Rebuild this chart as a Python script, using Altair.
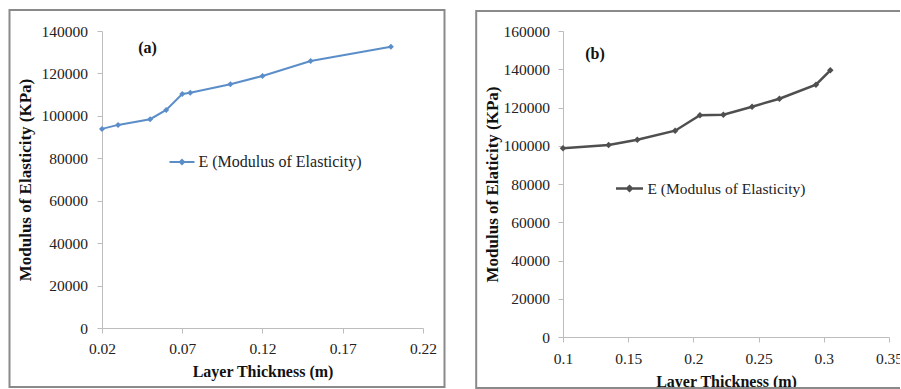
import altair as alt
import pandas as pd

# ---------------- data ----------------
a_thickness = [0.02, 0.03, 0.05, 0.06, 0.07, 0.075, 0.10, 0.12, 0.15, 0.20]
a_modulus = [93850, 95740, 98420, 102800, 110330, 110940, 114900, 118810, 125870, 132610]

b_thickness = [0.10, 0.135, 0.157, 0.186, 0.205, 0.223, 0.245, 0.266, 0.294, 0.305]
b_modulus = [98670, 100390, 103160, 107870, 115920, 116230, 120420, 124600, 131920, 139450]

a_xticks = [0.02, 0.07, 0.12, 0.17, 0.22]
b_xticks = [0.1, 0.15, 0.2, 0.25, 0.3, 0.35]
a_yticks = [0, 20000, 40000, 60000, 80000, 100000, 120000, 140000]
b_yticks = [0, 20000, 40000, 60000, 80000, 100000, 120000, 140000, 160000]

series_label = "E (Modulus of Elasticity)"
x_title = "Layer Thickness (m)"
a_ytitle = "Modulus of Elasticity (KPa)"
b_ytitle = "Modulus of Elaticity  (KPa)"

FONT = "Times New Roman, Liberation Serif, DejaVu Serif, serif"
AXIS_GREY = "#bdbdbd"
FRAME_GREY = "#8a8a8a"

one = pd.DataFrame({"k": [0]})


def panel(xs, ys, color, w, h, xdom, xticks, xfmt, ydom, yticks, ytitle,
          tag, tag_xy, leg_xy, leg_size, leg_font, frame, xlab_pad, ylab_pad,
          xtitle_pad, ytitle_pad, line_w, pt_size):
    df = pd.DataFrame({"x": xs, "y": ys, "s": [series_label] * len(xs)})
    line = alt.Chart(df).mark_line(
        strokeWidth=line_w,
        point=alt.OverlayMarkDef(shape="diamond", size=pt_size, filled=True),
    ).encode(
        x=alt.X("x:Q",
                scale=alt.Scale(domain=xdom, nice=False, zero=False),
                axis=alt.Axis(values=xticks, format=xfmt, title=x_title,
                              titleFont=FONT, titleFontSize=16, titleFontWeight="bold",
                              titleColor="#111111", titlePadding=xtitle_pad,
                              labelFont=FONT, labelFontSize=15.5, labelColor="#222222",
                              labelPadding=xlab_pad, labelFlush=False, labelOverlap=False,
                              domainColor=AXIS_GREY, tickColor=AXIS_GREY, tickSize=5,
                              grid=False)),
        y=alt.Y("y:Q",
                scale=alt.Scale(domain=ydom, nice=False),
                axis=alt.Axis(values=yticks, format="d", title=ytitle,
                              titleFont=FONT, titleFontSize=17, titleFontWeight="bold",
                              titleColor="#111111", titlePadding=ytitle_pad,
                              labelFont=FONT, labelFontSize=15.5, labelColor="#222222",
                              labelPadding=ylab_pad, labelFlush=False, labelOverlap=False,
                              domainColor=AXIS_GREY, tickColor=AXIS_GREY, tickSize=5,
                              grid=False)),
        color=alt.Color("s:N",
                        scale=alt.Scale(domain=[series_label], range=[color]),
                        legend=alt.Legend(
                            title=None, orient="none",
                            legendX=leg_xy[0], legendY=leg_xy[1],
                            symbolType="M-1,0L1,0M0,-0.17L0.17,0L0,0.17L-0.17,0Z",
                            symbolSize=leg_size, symbolStrokeWidth=line_w,
                            symbolFillColor=color, symbolStrokeColor=color,
                            labelFont=FONT, labelFontSize=leg_font, labelLimit=400,
                            labelColor="#222222", labelOffset=3, padding=0)),
    )
    tag_mark = alt.Chart(one).mark_text(
        text=tag, font=FONT, fontSize=16, fontWeight="bold", color="#111111"
    ).encode(x=alt.value(tag_xy[0]), y=alt.value(tag_xy[1]))
    frame_mark = alt.Chart(one).mark_rect(
        fillOpacity=0, stroke=FRAME_GREY, strokeWidth=2
    ).encode(x=alt.value(frame[0]), x2=alt.value(frame[1]),
             y=alt.value(frame[2]), y2=alt.value(frame[3]))
    return alt.layer(frame_mark, line, tag_mark).properties(width=w, height=h)


left = panel(a_thickness, a_modulus, "#5b8ec9", 321, 297,
             [0.02, 0.22], a_xticks, ".2f", [0, 140000], a_yticks, a_ytitle,
             "(a)", (45.5, 17), (66.5, 117.5), 625, 16,
             (-92.5, 342.5, -21, 356), 8, 9.5, 7, 7, 2, 36)

right = panel(b_thickness, b_modulus, "#4f4f4f", 326, 306,
              [0.1, 0.35], b_xticks, "~g", [0, 160000], b_yticks, b_ytitle,
              "(b)", (32, 23), (51.5, 142.5), 729, 15.5,
              (-86.8, 340, -20, 357), 9, 8.5, 7, 2, 2.5, 42)

chart = alt.hconcat(left, right, spacing=29).resolve_scale(
    color="independent").resolve_legend(color="independent").properties(
    padding={"left": 8, "top": 9, "right": -4, "bottom": 0},
    background="white",
).configure_view(stroke=None)

chart.save("out.html", embed_options={"renderer": "svg", "actions": False})
